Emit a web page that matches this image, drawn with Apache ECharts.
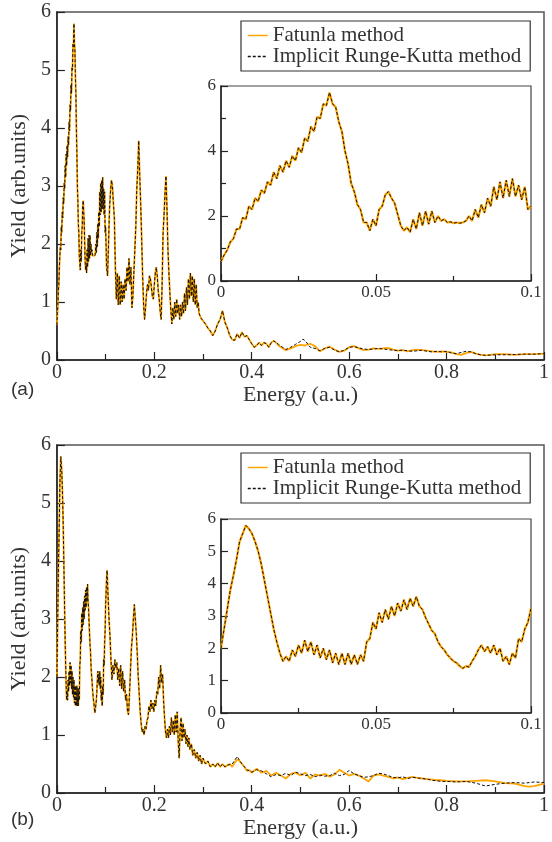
<!DOCTYPE html>
<html><head><meta charset="utf-8">
<script src="https://cdn.jsdelivr.net/npm/echarts@6/dist/echarts.min.js"></script>
<style>html,body{margin:0;padding:0;background:#fff}#c{width:552px;height:842px}</style>
</head><body><div id="c"></div><script>
// ---------- tick labels ----------
const mainXTicks = [0, 0.2, 0.4, 0.6, 0.8, 1];
const mainYTicks = [0, 1, 2, 3, 4, 5, 6];
const insetXTicks = [0, 0.05, 0.1];
const insetAYTicks = [0, 2, 4, 6];
const insetBYTicks = [0, 1, 2, 3, 4, 5, 6];
const seriesNames = ['Fatunla method', 'Implicit Runge-Kutta method'];

// ---------- panel (a) data ----------
const sampleStep = 0.001; // spacing of the 0-0.1 readings
const lowA = [0.6,0.8,0.95,1.2,1.3,1.6,1.6,1.95,1.9,2.3,2.2,2.55,2.45,2.8,2.7,3.05,2.95,3.35,3.15,3.55,
 3.35,3.7,3.5,3.85,3.7,4.1,3.95,4.4,4.3,4.75,4.6,5.05,5.0,5.45,5.4,5.8,5.45,5.35,4.9,4.6,
 4.0,3.6,3.0,2.75,2.35,2.2,1.8,1.8,1.55,1.9,1.7,2.2,2.3,2.65,2.75,2.55,2.4,2.05,1.7,1.55,
 1.65,1.5,1.9,1.6,2.1,1.7,2.15,1.75,2.15,1.8,2.0,1.85,1.9,1.8,1.82,1.78,1.8,1.78,1.8,1.85,
 2.0,1.85,2.2,1.95,2.35,2.1,2.55,2.3,2.9,2.5,3.05,2.55,3.1,2.6,3.15,2.6,2.95,2.5,2.9,2.2,2.3];
const midA = [[0.102,1.6],[0.104,1.45],[0.106,2.0],[0.108,2.6],[0.110,2.9],[0.112,3.1],[0.114,3.0],[0.116,2.7],[0.118,2.45],[0.120,1.6],
 [0.122,1.05],[0.124,1.5],[0.126,0.95],[0.128,1.45],[0.130,0.95],[0.132,1.35],[0.134,1.0],[0.136,1.3],[0.138,1.05],[0.140,1.4],
 [0.142,1.2],[0.144,1.6],[0.146,1.35],[0.148,1.75],[0.150,1.3],[0.152,1.6],[0.154,0.9],[0.156,1.1],[0.158,1.5],[0.160,1.9],
 [0.162,2.3],[0.164,2.95],[0.166,3.3],[0.168,3.78],[0.170,3.2],[0.172,2.7],[0.174,2.1],[0.176,1.45],[0.178,0.95],[0.180,0.7],
 [0.182,0.9],[0.184,1.15],[0.186,1.3],[0.188,1.2],[0.190,1.45],[0.192,1.4],[0.194,1.25],[0.196,1.1],[0.198,1.05],[0.200,1.3],
 [0.202,1.5],[0.204,1.6],[0.206,1.45],[0.208,1.2],[0.210,1.05],[0.212,0.85],[0.214,0.7],[0.216,1.3],[0.218,2.2],[0.220,2.5],
 [0.222,2.9],[0.224,3.17],[0.226,2.6],[0.228,1.9],[0.230,1.5],[0.232,1.15],[0.234,0.85],[0.236,0.62],[0.238,0.9],[0.240,0.7],
 [0.242,1.0],[0.244,0.75],[0.246,1.05],[0.248,0.8],[0.250,0.95],[0.252,0.7],[0.254,0.95],[0.256,0.75],[0.258,1.0],[0.260,0.8],
 [0.262,1.15],[0.264,0.85],[0.266,1.25],[0.268,0.95],[0.270,1.4],[0.272,1.05],[0.274,1.5],[0.276,1.1],[0.278,1.45],[0.280,1.0],
 [0.282,1.4],[0.284,0.95],[0.286,1.3],[0.288,0.9],[0.290,1.0],[0.292,0.8],[0.296,0.72],[0.300,0.7],[0.305,0.62],[0.310,0.55],
 [0.315,0.5],[0.320,0.42],[0.325,0.5],[0.330,0.62],[0.335,0.7],[0.340,0.85],[0.345,0.65],[0.350,0.55],[0.355,0.42],[0.360,0.35],
 [0.365,0.34],[0.370,0.45],[0.375,0.38],[0.380,0.48],[0.385,0.4],[0.390,0.42],[0.395,0.35],[0.400,0.28],[0.405,0.22],[0.410,0.25],
 [0.415,0.3],[0.420,0.25],[0.425,0.3],[0.430,0.28],[0.435,0.22],[0.440,0.3],[0.445,0.33],[0.450,0.3]];
const fatTailA = [[0.455,0.25],[0.46,0.22],[0.47,0.17],[0.48,0.2],[0.49,0.24],[0.50,0.26],[0.51,0.25],[0.52,0.28],[0.53,0.24],[0.54,0.15],
 [0.55,0.2],[0.56,0.23],[0.57,0.18],[0.58,0.14],[0.59,0.16],[0.60,0.22],[0.61,0.24],[0.62,0.2],[0.63,0.17],[0.64,0.18],
 [0.65,0.2],[0.66,0.19],[0.67,0.2],[0.68,0.21],[0.69,0.18],[0.70,0.16],[0.71,0.17],[0.72,0.15],[0.73,0.17],[0.74,0.18],
 [0.75,0.17],[0.76,0.16],[0.77,0.15],[0.78,0.14],[0.79,0.15],[0.80,0.14],[0.81,0.13],[0.82,0.1],[0.83,0.09],[0.84,0.12],
 [0.85,0.14],[0.86,0.11],[0.87,0.09],[0.88,0.08],[0.89,0.09],[0.90,0.1],[0.92,0.1],[0.94,0.09],[0.96,0.1],[0.98,0.1],[1.0,0.11]];
const rkTailA = [[0.455,0.27],[0.46,0.24],[0.47,0.18],[0.48,0.22],[0.49,0.27],[0.50,0.32],[0.505,0.36],[0.51,0.33],[0.52,0.22],[0.53,0.2],
 [0.54,0.16],[0.55,0.2],[0.56,0.22],[0.57,0.17],[0.58,0.14],[0.59,0.17],[0.60,0.22],[0.61,0.23],[0.62,0.21],[0.63,0.19],
 [0.64,0.18],[0.65,0.19],[0.66,0.2],[0.67,0.19],[0.68,0.18],[0.69,0.17],[0.70,0.16],[0.71,0.17],[0.72,0.16],[0.73,0.15],
 [0.74,0.16],[0.75,0.17],[0.76,0.15],[0.77,0.14],[0.78,0.15],[0.79,0.14],[0.80,0.15],[0.81,0.12],[0.82,0.11],[0.83,0.13],
 [0.84,0.15],[0.85,0.14],[0.86,0.11],[0.87,0.09],[0.88,0.08],[0.89,0.085],[0.90,0.09],[0.92,0.09],[0.94,0.095],[0.96,0.1],[0.98,0.1],[1.0,0.11]];

// ---------- panel (b) data ----------
const lowB = [2.0,2.6,3.2,3.8,4.25,4.75,5.3,5.55,5.8,5.7,5.55,5.3,5.0,4.6,4.1,3.6,3.1,2.6,2.2,1.85,
 1.6,1.75,1.6,1.95,1.75,2.1,1.85,2.25,1.9,2.2,1.8,2.1,1.7,2.0,1.65,1.95,1.55,1.85,1.5,1.85,
 1.5,1.85,1.5,1.8,1.5,1.8,1.6,2.2,2.3,2.8,2.6,3.1,2.8,3.2,2.9,3.3,3.0,3.4,3.15,3.5,
 3.2,3.55,3.3,3.6,3.3,3.2,2.95,2.75,2.55,2.45,2.2,2.05,1.95,1.8,1.7,1.6,1.55,1.45,1.38,1.45,
 1.42,1.6,1.75,1.95,2.1,1.9,2.05,1.85,2.1,1.8,2.0,1.6,1.75,1.5,1.85,1.7,2.3,2.2,2.6,2.8,3.24];
const midB = [[0.102,3.7],[0.103,3.84],[0.105,3.4],[0.107,3.0],[0.109,2.7],[0.111,2.3],[0.113,1.95],[0.115,2.2],[0.117,2.05],[0.119,2.3],
 [0.121,2.15],[0.123,2.25],[0.125,1.95],[0.127,2.15],[0.129,1.85],[0.131,2.2],[0.133,1.8],[0.135,2.1],[0.137,1.75],[0.139,1.95],
 [0.141,1.6],[0.143,1.7],[0.145,1.4],[0.147,1.35],[0.149,1.7],[0.151,2.1],[0.153,2.5],[0.155,2.7],[0.157,3.0],[0.159,3.25],
 [0.161,3.0],[0.163,2.75],[0.165,2.4],[0.167,2.0],[0.169,1.7],[0.171,1.4],[0.173,1.2],[0.175,1.05],[0.177,1.1],[0.179,1.0],
 [0.181,1.15],[0.183,1.1],[0.185,1.25],[0.187,1.3],[0.189,1.5],[0.191,1.4],[0.193,1.6],[0.195,1.45],[0.197,1.55],[0.199,1.4],
 [0.201,1.6],[0.203,1.5],[0.205,1.75],[0.207,1.7],[0.209,2.0],[0.211,1.8],[0.213,2.2],[0.215,1.9],[0.217,2.05],[0.219,1.6],
 [0.221,1.3],[0.223,1.05],[0.225,0.95],[0.227,1.1],[0.229,0.95],[0.231,1.15],[0.233,1.0],[0.235,1.3],[0.237,1.05],[0.239,1.25],
 [0.241,1.0],[0.243,1.35],[0.245,1.05],[0.247,1.4],[0.249,0.9],[0.251,0.6],[0.253,1.1],[0.255,1.3],[0.257,0.9],[0.259,1.2],
 [0.261,0.95],[0.263,1.1],[0.265,0.85],[0.267,1.0],[0.269,0.8],[0.271,0.95],[0.273,0.75],[0.276,0.85],[0.279,0.65],[0.282,0.75],
 [0.285,0.6],[0.288,0.7],[0.291,0.55],[0.294,0.65],[0.297,0.5],[0.300,0.6],[0.305,0.5],[0.310,0.55],[0.315,0.45],[0.320,0.5],
 [0.325,0.45],[0.330,0.52],[0.335,0.45],[0.340,0.5],[0.345,0.45]];
const fatTailB = [[0.350,0.48],[0.355,0.5],[0.360,0.45],[0.365,0.52],[0.370,0.58],[0.375,0.55],[0.380,0.5],[0.385,0.45],[0.390,0.38],[0.395,0.4],
 [0.400,0.35],[0.410,0.42],[0.420,0.35],[0.430,0.38],[0.440,0.3],[0.450,0.35],[0.460,0.3],[0.470,0.25],[0.480,0.33],[0.490,0.35],
 [0.500,0.3],[0.510,0.35],[0.520,0.25],[0.530,0.32],[0.540,0.3],[0.550,0.33],[0.560,0.28],[0.570,0.32],[0.580,0.4],[0.590,0.35],
 [0.600,0.3],[0.610,0.33],[0.620,0.3],[0.630,0.25],[0.640,0.2],[0.650,0.3],[0.660,0.32],[0.670,0.3],[0.680,0.28],[0.690,0.25],
 [0.700,0.27],[0.710,0.24],[0.720,0.26],[0.730,0.28],[0.740,0.26],[0.750,0.25],[0.760,0.24],[0.770,0.23],[0.780,0.22],[0.790,0.22],
 [0.800,0.21],[0.820,0.2],[0.840,0.2],[0.860,0.21],[0.880,0.22],[0.900,0.2],[0.920,0.17],[0.940,0.16],[0.960,0.12],[0.970,0.11],
 [0.980,0.12],[1.000,0.16]];
const rkTailB = [[0.35,0.48],[0.36,0.5],[0.37,0.63],[0.38,0.5],[0.39,0.4],[0.40,0.36],[0.41,0.4],[0.42,0.38],[0.43,0.33],[0.44,0.28],
 [0.45,0.32],[0.46,0.3],[0.47,0.34],[0.48,0.3],[0.49,0.36],[0.50,0.33],[0.51,0.3],[0.52,0.32],[0.53,0.28],[0.54,0.31],
 [0.55,0.29],[0.56,0.3],[0.57,0.34],[0.58,0.3],[0.59,0.32],[0.60,0.39],[0.61,0.33],[0.62,0.3],[0.63,0.27],[0.64,0.28],
 [0.65,0.3],[0.66,0.34],[0.67,0.33],[0.68,0.3],[0.69,0.27],[0.70,0.26],[0.71,0.28],[0.72,0.25],[0.73,0.27],[0.74,0.26],
 [0.75,0.25],[0.76,0.24],[0.77,0.22],[0.78,0.21],[0.79,0.2],[0.80,0.2],[0.82,0.19],[0.84,0.2],[0.86,0.17],[0.88,0.12],
 [0.90,0.15],[0.92,0.17],[0.94,0.18],[0.96,0.17],[0.98,0.19],[1.00,0.18]];

// ---------- build ----------
const SERIF = '"Liberation Serif","DejaVu Serif","Times New Roman",serif';
const SANS = '"Liberation Sans","DejaVu Sans",Arial,sans-serif';
const TXT = '#333';
const AX = '#222';
const ORANGE = '#FFA500';
const DASH = '#111';
function pairs(ys) { return ys.map((y, i) => [Math.round(i * sampleStep * 10000) / 10000, y]); }
const fatA = pairs(lowA).concat(midA, fatTailA);
const rkA = pairs(lowA).concat(midA, rkTailA);
const fatB = pairs(lowB).concat(midB, fatTailB);
const rkB = pairs(lowB).concat(midB, rkTailB);
const fatAin = pairs(lowA), rkAin = pairs(lowA);
const fatBin = pairs(lowB), rkBin = pairs(lowB);

function xAxisCfg(gi, ticks, inset) {
  return {
    type: 'value', gridIndex: gi, min: ticks[0], max: ticks[ticks.length - 1], interval: ticks[1] - ticks[0],
    axisLine: { show: true, onZero: false, lineStyle: { color: AX, width: 1.5 } },
    axisTick: { show: true, inside: true, length: inset ? 7 : 8, lineStyle: { color: AX, width: 1.2 } },
    minorTick: { show: true, splitNumber: 2, length: inset ? 5 : 6, lineStyle: { color: AX, width: 1.2 } },
    splitLine: { show: false }, minorSplitLine: { show: false },
    axisLabel: { fontFamily: SERIF, fontSize: inset ? 17 : 20, color: TXT, margin: 3 },
    name: inset ? '' : 'Energy (a.u.)', nameLocation: 'middle', nameGap: 24,
    nameTextStyle: { fontFamily: SERIF, fontSize: 22, color: TXT }
  };
}
function yAxisCfg(gi, ticks, inset, minor) {
  return {
    type: 'value', gridIndex: gi, min: ticks[0], max: ticks[ticks.length - 1], interval: ticks[1] - ticks[0],
    axisLine: { show: true, onZero: false, lineStyle: { color: AX, width: 1.5 } },
    axisTick: { show: true, inside: true, length: inset ? 7 : 8, lineStyle: { color: AX, width: 1.2 } },
    minorTick: { show: minor, splitNumber: 2, length: 5, lineStyle: { color: AX, width: 1.2 } },
    splitLine: { show: false }, minorSplitLine: { show: false },
    axisLabel: { fontFamily: SERIF, fontSize: inset ? 17 : 20, color: TXT, margin: inset ? 5 : 6 },
    name: inset ? '' : 'Yield (arb.units)', nameLocation: 'middle', nameGap: 21,
    nameTextStyle: { fontFamily: SERIF, fontSize: 22, color: TXT }
  };
}
function lines(data, xi, yi, dashed, w) {
  return {
    type: 'line', name: dashed ? seriesNames[1] : seriesNames[0], xAxisIndex: xi, yAxisIndex: yi,
    data: data, symbol: 'none', showSymbol: false, silent: true, animation: false, z: dashed ? 4 : 3,
    color: dashed ? DASH : ORANGE,
    itemStyle: { color: dashed ? DASH : ORANGE },
    lineStyle: dashed ? { color: DASH, width: 1, type: [3, 2] } : { color: ORANGE, width: w }
  };
}
function legendCfg(top) {
  return {
    left: 241, top: top, orient: 'vertical', data: seriesNames, selectedMode: false,
    borderColor: '#333', borderWidth: 1.2, backgroundColor: '#fff', padding: [4, 9, 4, 6],
    itemWidth: 20, itemHeight: 14, itemGap: 0, itemTextGap: 11,
    itemStyle: { opacity: 0 },
    lineStyle: { width: 1.5 },
    textStyle: { fontFamily: SERIF, fontSize: 21, color: TXT, lineHeight: 20 }
  };
}
const chart = echarts.init(document.getElementById('c'), null, { renderer: 'canvas' });
chart.setOption({
  animation: false,
  backgroundColor: '#fff',
  grid: [
    { left: 52, top: 12, width: 497, height: 348, show: true, borderColor: '#555', borderWidth: 1.5, backgroundColor: 'transparent' },
    { left: 221, top: 86, width: 310, height: 195, show: true, borderColor: '#444', borderWidth: 1.2, backgroundColor: '#fff' },
    { left: 52, top: 445, width: 497, height: 348, show: true, borderColor: '#555', borderWidth: 1.5, backgroundColor: 'transparent' },
    { left: 221, top: 519, width: 310, height: 194, show: true, borderColor: '#444', borderWidth: 1.2, backgroundColor: '#fff' }
  ],
  xAxis: [xAxisCfg(0, mainXTicks, false), xAxisCfg(1, insetXTicks, true), xAxisCfg(2, mainXTicks, false), xAxisCfg(3, insetXTicks, true)],
  yAxis: [yAxisCfg(0, mainYTicks, false, false), yAxisCfg(1, insetAYTicks, true, true), yAxisCfg(2, mainYTicks, false, false), yAxisCfg(3, insetBYTicks, true, false)],
  legend: [legendCfg(21), legendCfg(453)],
  series: [
    lines(fatA, 0, 0, false, 1.8), lines(rkA, 0, 0, true),
    lines(fatAin, 1, 1, false, 2.2), lines(rkAin, 1, 1, true),
    lines(fatB, 2, 2, false, 1.8), lines(rkB, 2, 2, true),
    lines(fatBin, 3, 3, false, 2.2), lines(rkBin, 3, 3, true)
  ],
  graphic: [
    { type: 'text', left: 11, top: 380, style: { text: '(a)', fontFamily: SANS, fontSize: 19, fill: TXT } },
    { type: 'text', left: 11, top: 810, style: { text: '(b)', fontFamily: SANS, fontSize: 19, fill: TXT } }
  ]
});
</script></body></html>
